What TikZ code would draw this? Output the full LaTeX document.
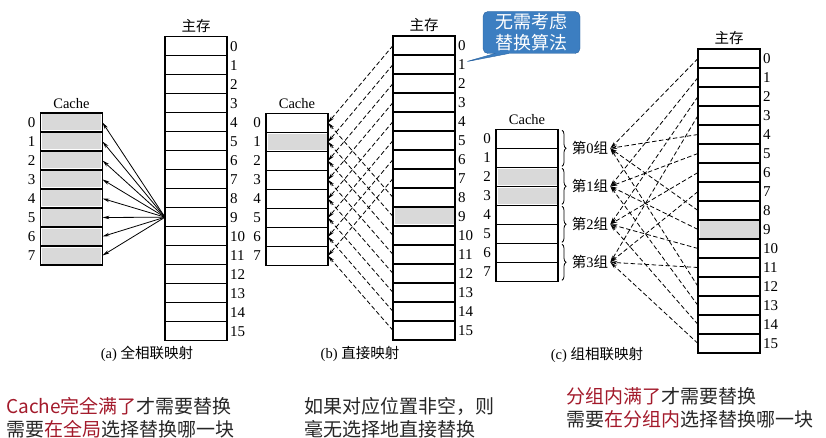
\documentclass[tikz,border=0pt]{standalone}
\usepackage{fontspec}
\setmainfont{Liberation Serif}
\newfontfamily\cjk{Noto Sans CJK SC}
\usetikzlibrary{arrows.meta,calc,decorations.pathreplacing,shapes.callouts}
\definecolor{tipblue}{RGB}{60,126,193}
\definecolor{tipedge}{RGB}{44,100,160}
\definecolor{hotred}{RGB}{163,26,43}
\definecolor{txtgray}{RGB}{38,38,38}

\begin{document}
\begin{tikzpicture}[x=1pt,y=-1pt]
	\path [use as bounding box] (0,0) rectangle (826,438);
	\tikzstyle{cell} = [draw, line width=1.1pt, minimum width=62pt, minimum height=19pt, inner sep=0pt, outer sep=0pt]
	\tikzstyle{grayfill} = [fill=gray!30]
	\tikzstyle{num} = [inner sep=2pt, font=\fontsize{15}{15}\selectfont]
	\tikzstyle{head} = [inner sep=2pt, font=\fontsize{14.5}{14.5}\selectfont]
	\tikzstyle{link} = [-{Stealth[length=7pt,width=3.5pt]}, line width=0.8pt]
	\tikzstyle{dlink} = [link, dash pattern=on 4.5pt off 2.5pt]
	\tikzstyle{note} = [anchor=west, align=left, inner sep=0pt, font=\cjk\fontsize{19}{22.5}\selectfont, text=txtgray]

	% (a)
	\foreach \i in {0,...,7} {
		\node[cell] (ca\i) at (71.5,{122.5+19*\i}) {};
		\fill[grayfill] ($(ca\i.north west)+(1.5,1.5)$) rectangle ($(ca\i.south east)+(-1.5,-1.5)$);
		\node[num, left=3pt] (na\i) at (ca\i.west) {\i};
	}
	\foreach \i in {0,...,15} {
		\node[cell] (ma\i) at (196,{46.2+19*\i}) {};
		\node[num, right=1pt] (ra\i) at (ma\i.east) {\i};
	}
	\node[head, above=2pt] (cha) at (ca0.north) {Cache};
	\node[head, above=2pt] (mha) at (ma0.north) {\cjk 主存};
	\foreach \i in {0,...,7}
		\draw[link] (ma9.west) -- (ca\i.east);
	\node[head] (capa) at (147,354) {(a) {\cjk 全相联映射}};

	% (b)
	\foreach \i in {0,...,7} {
		\node[cell] (cb\i) at (297,{122.8+19*\i}) {};
		\node[num, left=3pt] (nb\i) at (cb\i.west) {\i};
	}
	\foreach \i in {0,...,15} {
		\node[cell] (mb\i) at (424,{45.5+19*\i}) {};
		\node[num, right=1pt] (rb\i) at (mb\i.east) {\i};
	}
	\fill[grayfill] ($(cb1.north west)+(1.5,1.5)$) rectangle ($(cb1.south east)+(-1.5,-1.5)$);
	\fill[grayfill] ($(mb9.north west)+(1.5,1.5)$) rectangle ($(mb9.south east)+(-1.5,-1.5)$);
	\node[head, above=2pt] (chb) at (cb0.north) {Cache};
	\node[head, above=2pt] (mhb) at (mb0.north) {\cjk 主存};
	\foreach \i in {0,...,15} {
		\pgfmathtruncatemacro\j{mod(\i,8)}
		\draw[dlink] (mb\i.west) -- (cb\j.east);
	}
	\node[head] (capb) at (360,354) {(b) {\cjk 直接映射}};

	% (c)
	\foreach \i in {0,...,7} {
		\node[cell] (cc\i) at (527,{138.8+19*\i}) {};
		\node[num, left=3pt] (nc\i) at (cc\i.west) {\i};
	}
	\foreach \i in {0,...,15} {
		\node[cell] (mc\i) at (729,{58.5+19*\i}) {};
		\node[num, right=1pt] (rc\i) at (mc\i.east) {\i};
	}
	\foreach \k in {2,3}
		\fill[grayfill] ($(cc\k.north west)+(1.5,1.5)$) rectangle ($(cc\k.south east)+(-1.5,-1.5)$);
	\fill[grayfill] ($(mc9.north west)+(1.5,1.5)$) rectangle ($(mc9.south east)+(-1.5,-1.5)$);
	\node[head, above=2pt] (chc) at (cc0.north) {Cache};
	\node[head, above=2pt] (mhc) at (mc0.north) {\cjk 主存};
	\foreach \g in {0,...,3} {
		\pgfmathtruncatemacro\a{2*\g}
		\pgfmathtruncatemacro\b{2*\g+1}
		\draw[decorate, decoration={brace, amplitude=4pt}, line width=0.8pt] ($(cc\a.north east)+(4,1)$) -- ($(cc\b.south east)+(4,-1)$);
		\node[head] (g\g) at (590,{148.3+38*\g}) {{\cjk 第}\g{\cjk 组}};
	}
	\foreach \i in {0,...,15} {
		\pgfmathtruncatemacro\j{mod(\i,4)}
		\draw[dlink] (mc\i.west) -- (g\j.east);
	}
	\node[head] (capc) at (597,355) {(c) {\cjk 组相联映射}};

	\node[rectangle callout, fill=tipblue, draw=tipedge, rounded corners=5pt, minimum width=97pt, minimum height=42pt, inner sep=0pt, align=center, text=white, font=\cjk\fontsize{18}{21}\selectfont, callout pointer width=14pt, callout absolute pointer={(465,62)}] (tip) at (531.5,32.5) {无需考虑\\替换算法};

	\node[note] (nl) at (6,417.5) {\textcolor{hotred}{Cache完全满了}才需要替换\\需要\textcolor{hotred}{在全局}选择替换哪一块};
	\node[note] (nm) at (304,417.5) {如果对应位置非空，则\\毫无选择地直接替换};
	\node[note] (nr) at (566,408) {\textcolor{hotred}{分组内满了}才需要替换\\需要\textcolor{hotred}{在分组内}选择替换哪一块};
\end{tikzpicture}
\end{document}
